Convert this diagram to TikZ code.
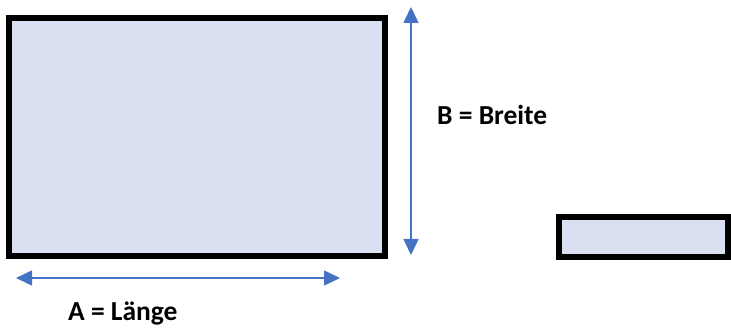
\documentclass[tikz,border=0pt]{standalone}
\usepackage{fontspec}
\setmainfont{Carlito}
\usetikzlibrary{arrows.meta}
\definecolor{boxfill}{HTML}{DAE0F2}
\definecolor{arrowblue}{HTML}{4472C4}
\begin{document}
\begin{tikzpicture}[x=1pt,y=-1pt,
  box/.style={draw=black,line width=6pt,fill=boxfill},
  dim/.style={draw=arrowblue,line width=1.5pt,{Triangle[length=16pt,width=15pt]}-{Triangle[length=16pt,width=15pt]}},
  lbl/.style={font=\bfseries\fontsize{27.5}{30}\selectfont,inner sep=0pt}]
\useasboundingbox (0,0) rectangle (731,328);
\draw[box] (9,18) rectangle (385,256);
\draw[box] (559,217) rectangle (728,257);
\coordinate (vt) at (411,7);
\coordinate (vb) at (411,255);
\coordinate (hl) at (16,278);
\coordinate (hr) at (340,278);
\draw[dim] (vt) -- (vb);
\draw[dim] (hl) -- (hr);
\node[lbl,anchor=base west] (b) at (437,125) {B = Breite};
\node[lbl,anchor=base west] (a) at (68,321) {A = Länge};
\end{tikzpicture}
\end{document}
